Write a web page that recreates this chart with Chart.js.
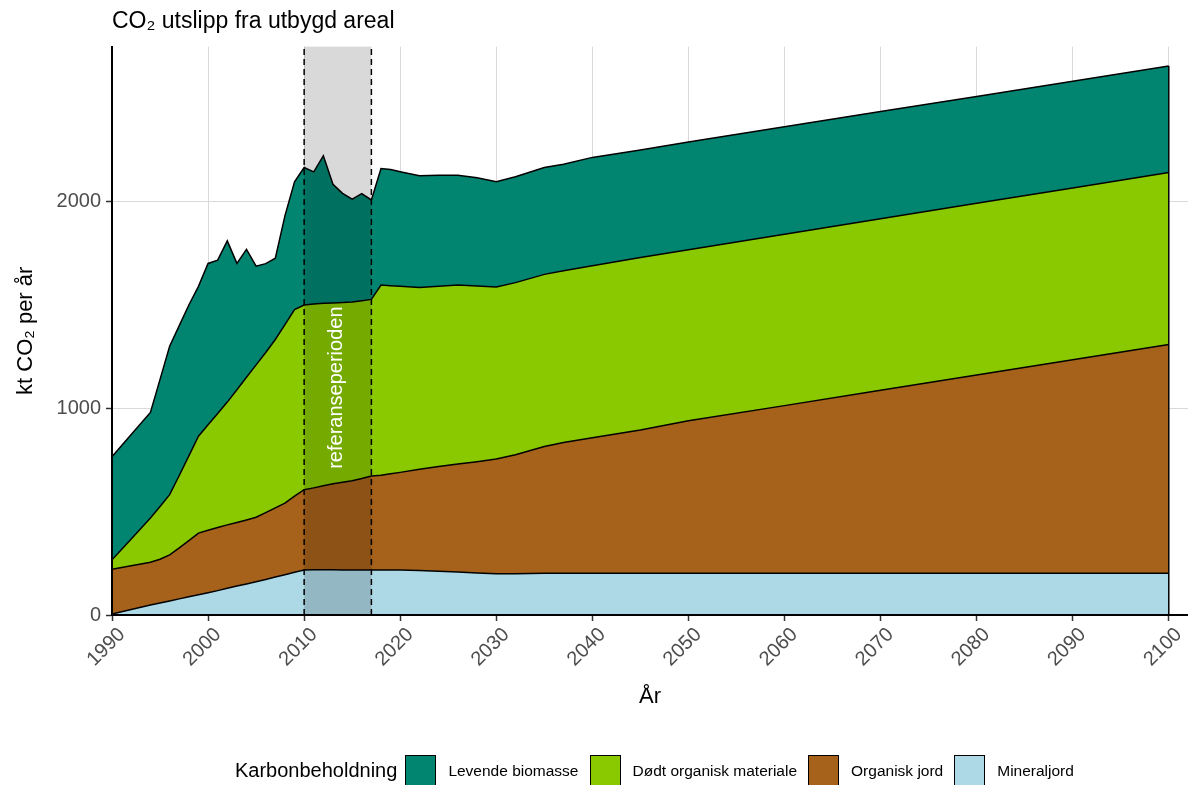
<!DOCTYPE html>
<html>
<head>
<meta charset="utf-8">
<script src="https://cdn.jsdelivr.net/npm/chart.js@4/dist/chart.umd.min.js"></script>
<style>
  html, body { margin: 0; padding: 0; background: #fff; }
  #wrap { position: relative; width: 1188px; height: 785px; overflow: hidden; }
  #c { position: absolute; left: 0; top: 0; }
  #legend { position: absolute; left: 235px; top: 755px; height: 31px; display: flex; align-items: center;
            font-family: "Liberation Sans", Arial, sans-serif; color: #000; white-space: nowrap; }
  #legend .ltitle { font-size: 20px; margin-right: 8px; }
  #legend .key { width: 31px; height: 31px; box-sizing: border-box; border: 1px solid #000; margin-right: 12px; }
  #legend .lab { font-size: 15.5px; margin-right: 11px; }
</style>
</head>
<body>
<div id="wrap">
  <canvas id="c" width="1188" height="785"></canvas>
  <div id="legend"></div>
</div>
<script>
// ---- data (kt CO2 per år) ----
const YEARS = [1990,1992,1994,1995,1996,1997,1998,1999,2000,2001,2002,2003,2004,2005,2006,2007,2008,2009,2010,2011,2012,2013,2014,2015,2016,2017,2018,2019,2020,2022,2024,2026,2028,2030,2032,2035,2037,2040,2045,2050,2060,2070,2080,2090,2100];
const MINERALJORD = [5,27,48,58,68,78,88,98,108,118,129,140,150,161,172,184,195,207,218,219,219,219,218,218,218,218,218,218,218,215,212,208,203,199,199,202,202,202,202,202,202,202,202,202,202];
const ORGANISK_JORD = [216,211,207,212,223,247,272,298,302,305,307,308,310,312,323,334,346,368,388,396,406,416,424,432,442,454,458,465,472,490,506,522,539,556,576,613,633,656,693,738,811,885,959,1033,1107];
const DODT_ORGANISK = [46,130,214,255,291,350,410,469,510,552,594,642,690,737,775,815,864,903,894,890,883,875,870,864,860,855,920,910,900,880,872,866,850,832,833,833,830,832,835,827,829,830,831,831,832];
const LEVENDE_BIOMASSE = [499,505,511,615,718,725,730,725,781,742,780,611,619,478,430,393,526,618,665,639,714,574,528,498,519,481,564,562,555,540,537,532,523,509,512,517,516,524,520,521,520,519,517,516,515];

const SERIES_NAMES = ["Mineraljord", "Organisk jord", "Dødt organisk materiale", "Levende biomasse"];
const X_TICKS = [1990,2000,2010,2020,2030,2040,2050,2060,2070,2080,2090,2100];
const Y_TICKS = [0,1000,2000];
const REF_START = 2010, REF_END = 2017, REF_LABEL_Y = 1100;
const REF_LABEL = "referanseperioden";
const LEGEND_TITLE = "Karbonbeholdning";

// ---- styles ----
const COLORS = ["#ADD8E6", "#A6611A", "#8AC800", "#018571"];
const FONT = '"Liberation Sans", Arial, sans-serif';

const seriesValues = [MINERALJORD, ORGANISK_JORD, DODT_ORGANISK, LEVENDE_BIOMASSE];
const datasets = seriesValues.map((vals, i) => ({
  label: SERIES_NAMES[i],
  data: YEARS.map((yr, j) => ({ x: yr, y: vals[j] })),
  backgroundColor: COLORS[i],
  borderColor: '#000',
  borderWidth: 1.5,
  pointRadius: 0,
  pointHoverRadius: 0,
  tension: 0,
  fill: i === 0 ? 'origin' : '-1'
}));

const overlayPlugin = {
  id: 'overlay',
  afterDatasetsDraw(chart) {
    const { ctx, chartArea: a, scales: { x, y } } = chart;
    const last = YEARS.length - 1;
    const total = seriesValues.reduce((s, arr) => s + arr[last], 0);
    const xe = x.getPixelForValue(YEARS[last]);
    ctx.save();
    ctx.strokeStyle = '#000';
    ctx.lineWidth = 1.5;
    ctx.beginPath();
    ctx.moveTo(xe, y.getPixelForValue(0));
    ctx.lineTo(xe, y.getPixelForValue(total));
    ctx.stroke();

    const x1 = x.getPixelForValue(REF_START), x2 = x.getPixelForValue(REF_END);
    ctx.fillStyle = 'rgba(0,0,0,0.15)';
    ctx.fillRect(x1, a.top, x2 - x1, a.bottom - a.top);
    ctx.setLineDash([6, 4]);
    ctx.lineWidth = 1.5;
    [x1, x2].forEach(xx => {
      ctx.beginPath();
      ctx.moveTo(xx, a.bottom);
      ctx.lineTo(xx, a.top);
      ctx.stroke();
    });
    ctx.setLineDash([]);

    // axis lines on top
    ctx.lineWidth = 2;
    ctx.beginPath();
    ctx.moveTo(a.left, a.top);
    ctx.lineTo(a.left, a.bottom);
    ctx.lineTo(a.right, a.bottom);
    ctx.stroke();

    ctx.translate((x1 + x2) / 2 - 1, y.getPixelForValue(REF_LABEL_Y));
    ctx.rotate(-Math.PI / 2);
    ctx.fillStyle = '#fff';
    ctx.font = '20px ' + FONT;
    ctx.textAlign = 'center';
    ctx.textBaseline = 'middle';
    ctx.fillText(REF_LABEL, 0, 0);
    ctx.restore();
  }
};

new Chart(document.getElementById('c'), {
  type: 'line',
  data: { datasets },
  plugins: [overlayPlugin],
  options: {
    responsive: false,
    animation: false,
    events: [],
    layout: { padding: { left: 0, right: 0, top: 0, bottom: 0 } },
    plugins: {
      legend: { display: false },
      tooltip: { enabled: false },
      title: {
        display: true,
        text: 'CO₂ utslipp fra utbygd areal',
        align: 'start',
        fullSize: false,
        color: '#000',
        font: { family: FONT, size: 23, weight: 'normal' },
        padding: { top: 8, bottom: 11 }
      }
    },
    scales: {
      x: {
        type: 'linear',
        min: 1990,
        max: 2102,
        afterBuildTicks: s => { s.ticks = X_TICKS.map(v => ({ value: v })); },
        afterFit: s => { s.height = 170; },
        grid: { color: '#D9D9D9', lineWidth: 1, tickColor: '#333', tickLength: 6, tickWidth: 1.5 },
        border: { display: true, color: '#000', width: 2 },
        ticks: {
          color: '#4D4D4D',
          font: { family: FONT, size: 20 },
          minRotation: 45, maxRotation: 45,
          labelOffset: 10,
          padding: 2,
          callback: v => String(v)
        },
        title: {
          display: true,
          text: 'År',
          color: '#000',
          font: { family: FONT, size: 22 },
          padding: { top: 0, bottom: 75 }
        }
      },
      y: {
        stacked: true,
        min: 0,
        max: 2750,
        afterBuildTicks: s => { s.ticks = Y_TICKS.map(v => ({ value: v })); },
        afterFit: s => { s.width = 112; },
        grid: { color: '#D9D9D9', lineWidth: 1, tickColor: '#333', tickLength: 6, tickWidth: 1.5 },
        border: { display: true, color: '#000', width: 2 },
        ticks: {
          color: '#4D4D4D',
          font: { family: FONT, size: 20 },
          padding: 5,
          callback: v => String(v)
        },
        title: {
          display: true,
          text: 'kt CO₂ per år',
          color: '#000',
          font: { family: FONT, size: 22 },
          padding: { top: 13, bottom: 0 }
        }
      }
    }
  }
});

// HTML legend (reverse stacking order, as in the reference)
const legend = document.getElementById('legend');
const t = document.createElement('span');
t.className = 'ltitle';
t.textContent = LEGEND_TITLE;
legend.appendChild(t);
[3, 2, 1, 0].forEach(i => {
  const k = document.createElement('span');
  k.className = 'key';
  k.style.background = COLORS[i];
  legend.appendChild(k);
  const l = document.createElement('span');
  l.className = 'lab';
  l.textContent = SERIES_NAMES[i];
  legend.appendChild(l);
});
</script>
</body>
</html>
